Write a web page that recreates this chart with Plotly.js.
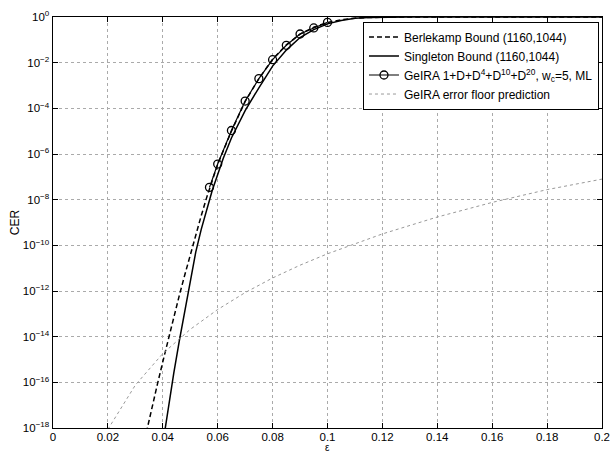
<!DOCTYPE html>
<html>
<head>
<meta charset="utf-8">
<script src="https://cdn.plot.ly/plotly-3.0.1.min.js"></script>
<style>html,body{margin:0;padding:0;background:#fff;}#chart{width:610px;height:454px;}</style>
</head>
<body>
<div id="chart"></div>
<script>
// ---- data ----
var berlekampEps = [0.034, 0.036, 0.038, 0.040, 0.042, 0.044, 0.046, 0.048, 0.050, 0.052, 0.054, 0.056, 0.058, 0.060, 0.065, 0.070, 0.075, 0.080, 0.085, 0.090, 0.095, 0.100, 0.105, 0.110, 0.115, 0.120, 0.130, 0.200];
var berlekampLogCER = [-18.2, -17.1, -16.1, -15.1, -14.1, -13.1, -12.2, -11.3, -10.4, -9.5, -8.7, -7.9, -7.15, -6.45, -5.0, -3.7, -2.7, -1.85, -1.22, -0.75, -0.45, -0.24, -0.12, -0.05, -0.02, -0.005, 0, 0];

var singletonEps = [0.040, 0.042, 0.044, 0.046, 0.048, 0.050, 0.052, 0.054, 0.056, 0.058, 0.060, 0.062, 0.065, 0.070, 0.075, 0.080, 0.085, 0.090, 0.095, 0.100, 0.105, 0.110, 0.115, 0.120, 0.130, 0.200];
var singletonLogCER = [-18.7, -17.1, -15.6, -14.2, -12.9, -11.6, -10.3, -9.3, -8.4, -7.6, -6.9, -6.2, -5.3, -4.1, -3.1, -2.15, -1.45, -0.9, -0.55, -0.3, -0.15, -0.06, -0.02, -0.005, 0, 0];

var geiraEps = [0.057, 0.060, 0.065, 0.070, 0.075, 0.080, 0.085, 0.090, 0.095, 0.100];
var geiraLogCER = [-7.46, -6.44, -4.97, -3.68, -2.70, -1.87, -1.24, -0.745, -0.48, -0.236];

var floorEps = [0.02, 0.03, 0.04, 0.05, 0.06, 0.07, 0.08, 0.09, 0.10, 0.12, 0.14, 0.16, 0.18, 0.20];
var floorLogCER = [-18.06, -16.12, -14.74, -13.68, -12.81, -12.07, -11.43, -10.87, -10.37, -9.50, -8.76, -8.12, -7.56, -7.1];

var xTickVals = [0, 0.02, 0.04, 0.06, 0.08, 0.1, 0.12, 0.14, 0.16, 0.18, 0.2];
var xTickText = ['0', '0.02', '0.04', '0.06', '0.08', '0.1', '0.12', '0.14', '0.16', '0.18', '0.2'];
var yTickVals = [1e-18, 1e-16, 1e-14, 1e-12, 1e-10, 1e-8, 1e-6, 1e-4, 1e-2, 1];
var yTickText = ['10<sup>−18</sup>', '10<sup>−16</sup>', '10<sup>−14</sup>', '10<sup>−12</sup>', '10<sup>−10</sup>', '10<sup>−8</sup>', '10<sup>−6</sup>', '10<sup>−4</sup>', '10<sup>−2</sup>', '10<sup>0</sup>'];

var xTitle = 'ε';
var yTitle = 'CER';
var names = [
  'Berlekamp Bound (1160,1044)',
  'Singleton Bound (1160,1044)',
  'GeIRA 1+D+D<sup>4</sup>+D<sup>10</sup>+D<sup>20</sup>, w<sub>c</sub>=5, ML',
  'GeIRA error floor prediction'
];

function pow10(arr) { return arr.map(function (v) { return Math.pow(10, v); }); }

var traces = [
  {x: berlekampEps, y: pow10(berlekampLogCER), name: names[0], mode: 'lines', line: {color: '#000', width: 1.5, dash: '5px,3px'}},
  {x: singletonEps, y: pow10(singletonLogCER), name: names[1], mode: 'lines', line: {color: '#000', width: 1.5}},
  {x: geiraEps, y: pow10(geiraLogCER), name: names[2], mode: 'lines+markers', line: {color: '#000', width: 1.2},
   marker: {symbol: 'circle-open', size: 8, color: '#000', line: {width: 1.3, color: '#000'}}},
  {x: floorEps, y: pow10(floorLogCER), name: names[3], mode: 'lines', line: {color: '#999', width: 1, dash: 'dot'}}
];

var font = {family: '"Liberation Sans", Arial, Helvetica, sans-serif', size: 12, color: '#000'};

var layout = {
  width: 610, height: 454,
  margin: {l: 53, r: 8, t: 17, b: 26},
  paper_bgcolor: '#fff', plot_bgcolor: '#fff',
  font: font,
  showlegend: true,
  legend: {x: 0.9945, xanchor: 'right', y: 0.989, yanchor: 'top', bgcolor: '#fff', bordercolor: '#000', borderwidth: 1,
           font: {family: font.family, size: 12, color: '#000'}, tracegroupgap: 0},
  xaxis: {
    range: [0, 0.2], tickvals: xTickVals, ticktext: xTickText, ticklabeloverflow: 'allow', ticklabelstandoff: -2,
    showline: true, linecolor: '#000', linewidth: 1.4, mirror: 'ticks',
    ticks: 'inside', ticklen: 5, tickcolor: '#000',
    showgrid: true, gridcolor: '#aaa', griddash: 'dot', gridwidth: 1,
    zeroline: false, tickfont: {size: 11.5}
  },
  yaxis: {
    type: 'log', range: [-18, 0], tickvals: yTickVals, ticktext: yTickText, ticklabeloverflow: 'allow',
    showline: true, linecolor: '#000', linewidth: 1.4, mirror: 'ticks',
    ticks: 'inside', ticklen: 5, tickcolor: '#000',
    showgrid: true, gridcolor: '#aaa', griddash: 'dot', gridwidth: 1,
    zeroline: false, tickfont: {size: 11.5},
    title: {text: yTitle, font: {size: 12}, standoff: 0}
  },
  annotations: [
    {text: xTitle, xref: 'paper', yref: 'paper', x: 0.5, y: -0.0633, xanchor: 'center', yanchor: 'bottom',
     showarrow: false, font: {size: 10, color: '#000'}, borderpad: 0}
  ]
};

Plotly.newPlot('chart', traces, layout, {staticPlot: true, displayModeBar: false});
</script>
</body>
</html>
